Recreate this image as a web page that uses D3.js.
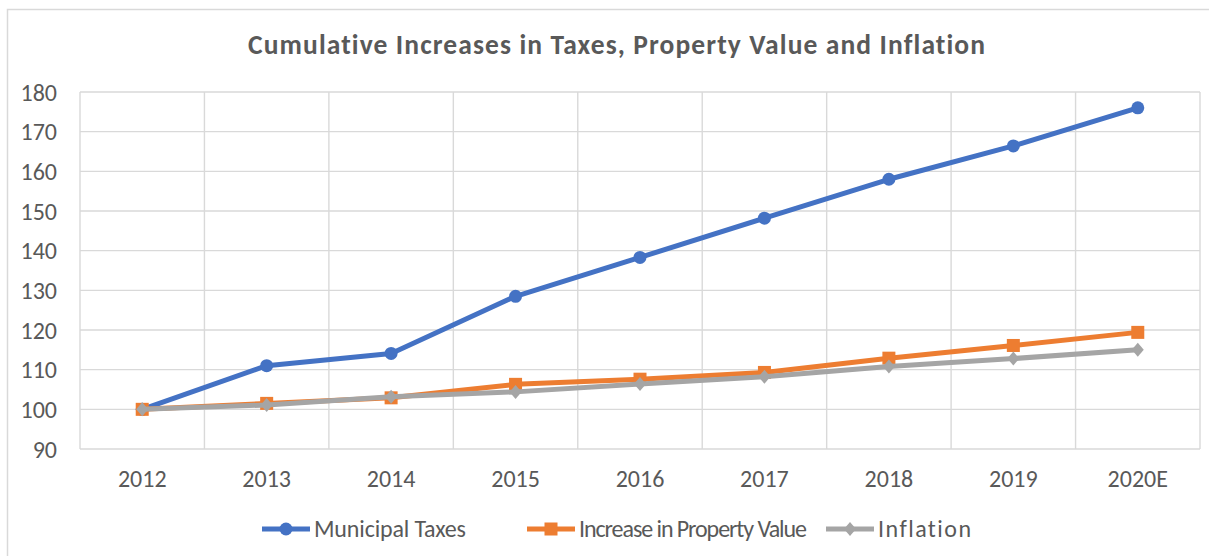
<!DOCTYPE html>
<html>
<head>
<meta charset="utf-8">
<script src="https://cdn.jsdelivr.net/npm/d3@7"></script>
<style>
  body { margin: 0; background: #fff; }
  svg { display: block; font-family: Calibri, Carlito, "Liberation Sans", sans-serif; font-variant-ligatures: none; }
</style>
</head>
<body>
<svg width="1209" height="556"></svg>
<script>
// data
var years = ['2012', '2013', '2014', '2015', '2016', '2017', '2018', '2019', '2020E'];
var municipalTaxes = [100, 111.0, 114.1, 128.5, 138.3, 148.2, 158.0, 166.4, 176.0];
var propertyValue = [100, 101.5, 102.9, 106.3, 107.6, 109.3, 112.9, 116.1, 119.4];
var inflation = [100, 101.1, 103.2, 104.4, 106.4, 108.2, 110.8, 112.8, 115.0];
var yTicks = [90, 100, 110, 120, 130, 140, 150, 160, 170, 180];
var seriesNames = ['Municipal Taxes', 'Increase in Property Value', 'Inflation'];

var series = [
  {name: seriesNames[0], values: municipalTaxes, color: '#4472C4', marker: 'circle'},
  {name: seriesNames[1], values: propertyValue, color: '#ED7D31', marker: 'square'},
  {name: seriesNames[2], values: inflation, color: '#A5A5A5', marker: 'diamond'}
];

var svg = d3.select('svg');
var plotLeft = 80, plotRight = 1200, plotTop = 92, plotBottom = 449;

// chart border (runs off the right / bottom edge like the screenshot)
svg.append('rect')
    .attr('x', 7.5).attr('y', 9.5)
    .attr('width', 1240).attr('height', 600)
    .attr('fill', 'none')
    .attr('stroke', '#D9D9D9')
    .attr('stroke-width', 1.5);

var x = d3.scaleBand().domain(years).range([plotLeft, plotRight]).padding(0);
var y = d3.scaleLinear().domain([90, 180]).range([plotBottom, plotTop]);

// grid
var grid = svg.append('g');
grid.selectAll('.hg')
    .data(yTicks)
    .enter()
    .append('line')
    .attr('x1', plotLeft).attr('x2', plotRight)
    .attr('y1', function(d){ return y(d); })
    .attr('y2', function(d){ return y(d); })
    .attr('stroke', '#D9D9D9').attr('stroke-width', 1.4);
grid.selectAll('.vg')
    .data(years)
    .enter()
    .append('line')
    .attr('x1', function(d){ return x(d); })
    .attr('x2', function(d){ return x(d); })
    .attr('y1', plotTop).attr('y2', plotBottom)
    .attr('stroke', '#D9D9D9').attr('stroke-width', 1.4);
grid.append('line')
    .attr('x1', plotRight).attr('x2', plotRight)
    .attr('y1', plotTop).attr('y2', plotBottom)
    .attr('stroke', '#D9D9D9').attr('stroke-width', 1.4);

// axes
var yAxis = svg.append('g')
    .attr('transform', 'translate(' + plotLeft + ',0)')
    .call(d3.axisLeft(y).tickValues(yTicks).tickSize(0).tickPadding(23));
var xAxis = svg.append('g')
    .attr('transform', 'translate(0,' + plotBottom + ')')
    .call(d3.axisBottom(x).tickSize(0).tickPadding(22));
[yAxis, xAxis].forEach(function(a){
    a.select('.domain').remove();
    a.selectAll('text')
        .attr('fill', '#595959')
        .attr('font-size', 24)
        .attr('font-family', 'Calibri, Carlito, "Liberation Sans", sans-serif');
});
yAxis.selectAll('text').attr('dy', '0.34em');
xAxis.selectAll('text').attr('dy', '0.66em');

// title
svg.append('text')
    .attr('x', 616.5)
    .attr('y', 54)
    .attr('text-anchor', 'middle')
    .attr('font-size', 27.5)
    .attr('font-weight', 'bold')
    .attr('fill', '#595959')
    .attr('textLength', 737)
    .attr('lengthAdjust', 'spacing')
    .text('Cumulative Increases in Taxes, Property Value and Inflation');

function cx(d, i){ return x(years[i]) + x.bandwidth() / 2; }

function drawMarker(g, type, color){
    if (type === 'circle') {
        g.append('circle').attr('r', 6.5).attr('fill', color);
    } else if (type === 'square') {
        g.append('rect').attr('x', -6.5).attr('y', -6.5).attr('width', 13).attr('height', 13).attr('fill', color);
    } else {
        g.append('path').attr('d', 'M0,-7L6,0L0,7L-6,0Z').attr('fill', color);
    }
}

var line = d3.line()
    .x(cx)
    .y(function(d){ return y(d); });

series.forEach(function(s){
    svg.append('path')
        .datum(s.values)
        .attr('d', line)
        .attr('fill', 'none')
        .attr('stroke', s.color)
        .attr('stroke-width', 5)
        .attr('stroke-linejoin', 'round')
        .attr('stroke-linecap', 'round');
    s.values.forEach(function(v, i){
        var g = svg.append('g').attr('transform', 'translate(' + cx(v, i) + ',' + y(v) + ')');
        drawMarker(g, s.marker, s.color);
    });
});

// legend
var legendX = [262, 527, 826];
var legendTextWidth = [152, 228, 93];
series.forEach(function(s, i){
    var g = svg.append('g').attr('transform', 'translate(' + legendX[i] + ',529)');
    g.append('line')
        .attr('x1', 0).attr('x2', 48)
        .attr('stroke', s.color).attr('stroke-width', 5);
    var m = g.append('g').attr('transform', 'translate(24,0)');
    drawMarker(m, s.marker, s.color);
    g.append('text')
        .attr('x', 52)
        .attr('dy', '0.33em')
        .attr('font-size', 24)
        .attr('fill', '#595959')
        .attr('textLength', legendTextWidth[i])
        .attr('lengthAdjust', 'spacing')
        .text(s.name);
});
</script>
</body>
</html>
